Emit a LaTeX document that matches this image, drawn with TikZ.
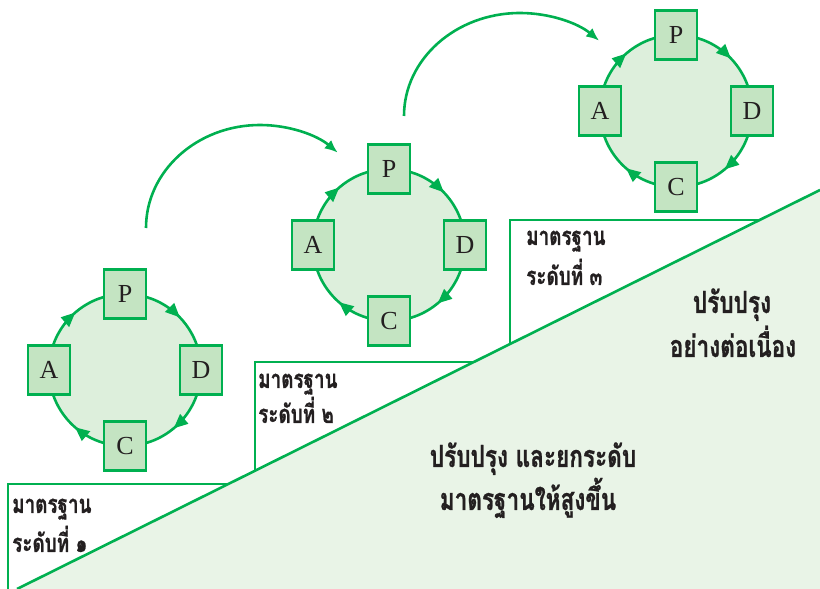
\documentclass[tikz,border=0pt]{standalone}
\usepackage{fontspec}
\newfontfamily\thaifont[Script=Thai,FakeStretch=0.74,BoldFeatures={FakeBold=0.8}]{Loma}
\newfontfamily\pdcafont{Liberation Serif}
\usetikzlibrary{arrows.meta}
\definecolor{gline}{HTML}{00B050}
\definecolor{cfill}{HTML}{DDEFDC}
\definecolor{bfill}{HTML}{C4E4C2}
\definecolor{lfill}{HTML}{E9F4E7}
\definecolor{txt}{HTML}{231F20}
\tikzset{
  gl/.style={draw=gline,line width=2.6pt},
  cyc/.style={gl, fill=cfill},
  headfill/.style={fill=gline},
  pbox/.style={gl, fill=bfill, minimum width=42pt, minimum height=49pt, inner sep=0pt,
    font=\pdcafont\fontsize{26}{26}\selectfont, text=txt},
  lab/.style={font=\thaifont\bfseries\fontsize{25.5}{25.5}\selectfont, text=txt, inner sep=0pt, anchor=base west},
  big/.style={font=\thaifont\bfseries\fontsize{30.5}{30.5}\selectfont, text=txt, inner sep=0pt, anchor=base},
  jump/.style={gl, -{Latex[length=13pt,width=11pt]}}
}
\begin{document}
\begin{tikzpicture}[x=1pt,y=1pt]
\useasboundingbox (0,0) rectangle (820,589);
% lower fill and diagonal
\coordinate (g0) at (17,0);
\coordinate (g1) at (820,399);
\fill[lfill] (g0) -- (g1) -- (820,0) -- cycle;
% steps
\draw[gl] (8,0) -- (8,105) -- (228,105);
\draw[gl] (255,118) -- (255,227) -- (474,227);
\draw[gl] (510,245) -- (510,369) -- (760,369);
\draw[gl] (g0) -- (g1);
% step labels
\node[lab] (l1a) at (12,76) {มาตรฐาน};
\node[lab] (l1b) at (12,37) {ระดับที่ ๑};
\node[lab] (l2a) at (258,201) {มาตรฐาน};
\node[lab] (l2b) at (258,166) {ระดับที่ ๒};
\node[lab] (l3a) at (526,344) {มาตรฐาน};
\node[lab] (l3b) at (526,304) {ระดับที่ ๓};
\node[big] (t1) at (732,276) {ปรับปรุง};
\node[big] (t2) at (733,232) {อย่างต่อเนื่อง};
\node[big] (t3) at (533,122) {ปรับปรุง และยกระดับ};
\node[big] (t4) at (528,79) {มาตรฐานให้สูงขึ้น};
% cycles
\foreach \n/\cx/\cy in {1/125/219, 2/389/344, 3/676/478}{
  \coordinate (c\n) at (\cx,\cy);
  \path[cyc] (c\n) circle[radius=76];
  \foreach \t in {44,-50,-131,131}{
    \fill[headfill, shift={(c\n)}, rotate=\t] (76,0) -- (82,14) -- (69,14) -- cycle;
  }
  \path (c\n) ++(0,76) node[pbox] (p\n) {P};
  \path (c\n) ++(76,0) node[pbox] (d\n) {D};
  \path (c\n) ++(0,-76) node[pbox] (k\n) {C};
  \path (c\n) ++(-76,0) node[pbox] (a\n) {A};
}
% jumps
\coordinate (s1) at (146,361);
\coordinate (s2) at (404,473);
\draw[jump] (s1) arc[start angle=180, end angle=47, x radius=114, y radius=103];
\draw[jump] (s2) arc[start angle=180, end angle=47, x radius=116, y radius=103];
\end{tikzpicture}
\end{document}
